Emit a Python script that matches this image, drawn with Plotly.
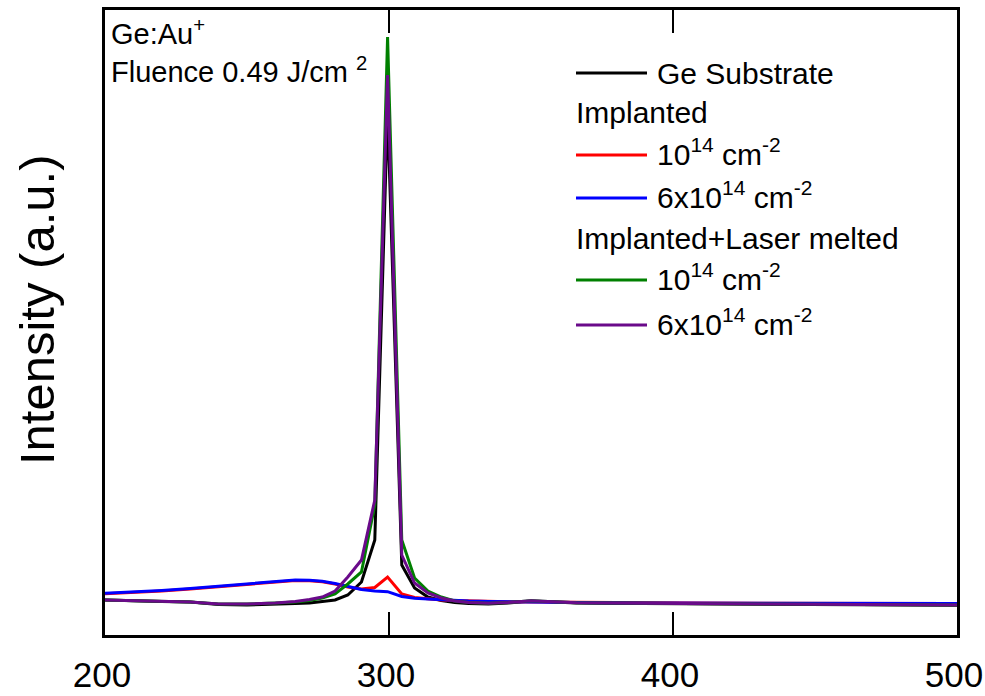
import plotly.graph_objects as go

# Raman shift (cm^-1)
wavenumber = [200, 210, 220, 230, 240, 250, 260, 267, 272, 276.5, 281, 285.5, 290.3, 295.0,
              299.5, 304.5, 309.0, 313.7, 318.4, 323.1, 328, 335, 342, 350, 358, 366, 375,
              390, 410, 430, 450, 470, 490, 500]

ge_substrate = [350, 340, 335, 330, 305, 300, 305, 315, 320, 335, 350, 400, 530, 950,
                5250, 700, 470, 380, 345, 325, 315, 310, 320, 340, 330, 320, 317,
                315, 310, 308, 305, 303, 300, 298]

impl_1e14 = [412, 425, 440, 460, 485, 510, 535, 545, 542, 532, 510, 480, 460, 475,
             580, 410, 375, 360, 350, 345, 340, 335, 332, 330, 328, 325, 323,
             320, 320, 318, 317, 317, 316, 315]

impl_6e14 = [417, 430, 445, 465, 490, 515, 540, 550, 547, 537, 515, 485, 455, 440,
             433, 385, 367, 360, 353, 345, 340, 335, 332, 330, 328, 325, 323,
             320, 320, 318, 317, 317, 316, 315]

melt_1e14 = [350, 345, 340, 330, 310, 310, 320, 330, 345, 370, 410, 510, 630, 1300,
             5980, 950, 570, 440, 380, 340, 325, 317, 325, 343, 333, 323, 320,
             317, 313, 310, 308, 306, 302, 300]

melt_6e14 = [350, 345, 340, 330, 310, 310, 320, 335, 355, 380, 440, 580, 750, 1350,
             5600, 800, 520, 420, 370, 340, 325, 317, 325, 343, 333, 323, 320,
             317, 313, 310, 308, 306, 302, 300]

x_ticks = [200, 300, 400, 500]

series = [
    ("Ge Substrate", ge_substrate, "#000000"),
    ("Implanted 10^14 cm^-2", impl_1e14, "#ff0000"),
    ("Implanted 6x10^14 cm^-2", impl_6e14, "#0000ff"),
    ("Implanted+Laser melted 10^14 cm^-2", melt_1e14, "#008000"),
    ("Implanted+Laser melted 6x10^14 cm^-2", melt_6e14, "#6a0a8a"),
]

# legend rows: (kind, text, colour)
legend_rows = [
    ("line", "Ge Substrate", "#000000"),
    ("head", "Implanted", None),
    ("line", "10<sup>14</sup> cm<sup>-2</sup>", "#ff0000"),
    ("line", "6x10<sup>14</sup> cm<sup>-2</sup>", "#0000ff"),
    ("head", "Implanted+Laser melted", None),
    ("line", "10<sup>14</sup> cm<sup>-2</sup>", "#008000"),
    ("line", "6x10<sup>14</sup> cm<sup>-2</sup>", "#6a0a8a"),
]

FONT = "Liberation Sans, Arial, sans-serif"
W, H = 985, 696
L, R, T, B = 105, 28, 10, 61
PW, PH = W - L - R, H - T - B


def px_x(p):
    return (p - L) / PW


def px_y(p):
    return (H - B - p) / PH


fig = go.Figure()
for name, vals, col in series:
    fig.add_trace(go.Scatter(x=wavenumber, y=vals, mode="lines", name=name,
                             line=dict(color=col, width=3), showlegend=False))

row_px = [73, 112, 155, 198, 238, 280, 325]
for (kind, text, col), p in zip(legend_rows, row_px):
    yy = px_y(p)
    if kind == "line":
        fig.add_shape(type="line", xref="paper", yref="paper", x0=px_x(576), x1=px_x(647),
                      y0=yy, y1=yy, line=dict(color=col, width=3))
        shift = 3 if "<sup>" in text else 0
        fig.add_annotation(xref="paper", yref="paper", x=px_x(655), y=px_y(p - shift),
                           text=text, showarrow=False, xanchor="left", yanchor="middle",
                           font=dict(family=FONT, size=30, color="black"))
    else:
        fig.add_annotation(xref="paper", yref="paper", x=px_x(574), y=yy, text=text,
                           showarrow=False, xanchor="left", yanchor="middle",
                           font=dict(family=FONT, size=30, color="black"))

fig.add_annotation(xref="paper", yref="paper", x=px_x(109), y=px_y(32),
                   text="Ge:Au<sup>+</sup>", showarrow=False, xanchor="left", yanchor="middle",
                   font=dict(family=FONT, size=29, color="black"))
fig.add_annotation(xref="paper", yref="paper", x=px_x(109), y=px_y(70),
                   text="Fluence 0.49 J/cm <sup>2</sup>", showarrow=False, xanchor="left",
                   yanchor="middle", font=dict(family=FONT, size=29, color="black"))

# y-axis title
fig.add_annotation(xref="paper", yref="paper", x=px_x(37), y=px_y(310),
                   text="Intensity (a.u.)", textangle=-90, showarrow=False,
                   xanchor="center", yanchor="middle",
                   font=dict(family=FONT, size=49, color="black"))

fig.update_layout(
    width=W, height=H,
    margin=dict(l=L, r=R, t=T, b=B),
    paper_bgcolor="white", plot_bgcolor="white",
    font=dict(family=FONT, color="black"),
    xaxis=dict(range=[200, 500], tickvals=x_ticks, ticktext=[str(v) for v in x_ticks],
               ticks="inside", ticklen=23, tickwidth=2, tickcolor="black",
               showline=True, linecolor="black", linewidth=2.5, mirror="ticks",
               showgrid=False, zeroline=False, ticklabelstandoff=7,
               ticklabelshift=-3,
               ticklabeloverflow="allow", automargin=False,
               tickfont=dict(family=FONT, size=35, color="black")),
    yaxis=dict(range=[0, 6250], showticklabels=False, ticks="",
               showline=True, linecolor="black", linewidth=2.5, mirror=True,
               showgrid=False, zeroline=False, automargin=False),
)

fig.write_html("out.html")
